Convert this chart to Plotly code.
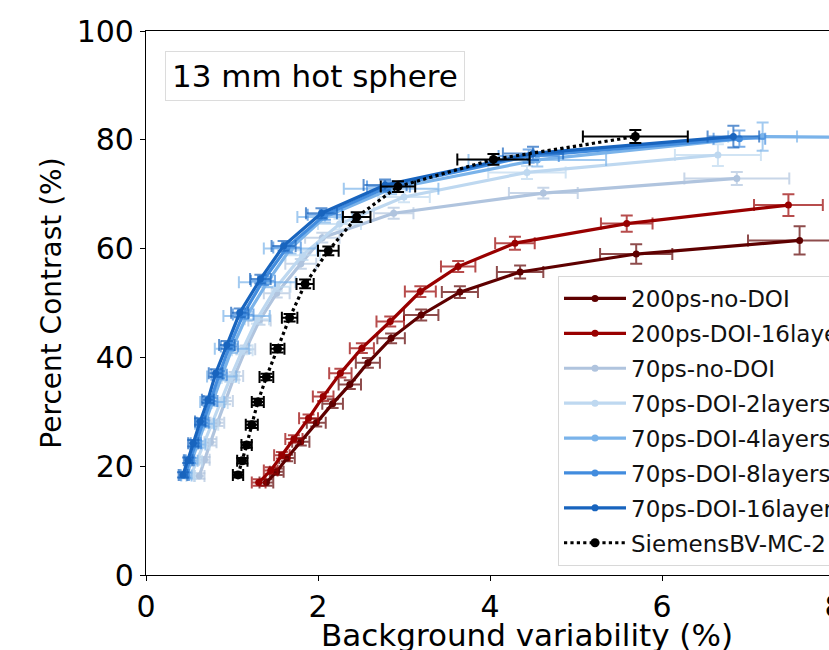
import plotly.graph_objects as go

# ---------------- data ----------------
names = ["200ps-no-DOI", "200ps-DOI-16layers", "70ps-no-DOI", "70ps-DOI-2layers",
         "70ps-DOI-4layers", "70ps-DOI-8layers", "70ps-DOI-16layers", "SiemensBV-MC-2"]

x_200_nodoi = [1.40, 1.52, 1.64, 1.80, 1.98, 2.17, 2.37, 2.58, 2.85, 3.20, 3.65, 4.35, 5.70, 7.60]
y_200_nodoi = [17.0, 19.0, 21.5, 24.5, 28.0, 31.5, 35.0, 39.0, 43.5, 47.8, 52.0, 55.7, 59.0, 61.5]
xe_200_nodoi = [0.08, 0.08, 0.09, 0.10, 0.11, 0.12, 0.13, 0.14, 0.16, 0.20, 0.21, 0.27, 0.42, 0.60]
ye_200_nodoi = [0.6, 0.6, 0.6, 0.7, 0.7, 0.8, 0.8, 0.9, 0.9, 1.0, 1.1, 1.2, 1.8, 2.6]

x_200_doi16 = [1.31, 1.45, 1.58, 1.72, 1.89, 2.06, 2.26, 2.51, 2.84, 3.19, 3.63, 4.29, 5.59, 7.47]
y_200_doi16 = [17.0, 19.2, 22.0, 25.0, 28.8, 32.8, 37.1, 41.7, 46.6, 52.1, 56.7, 61.0, 64.6, 68.0]
xe_200_doi16 = [0.08, 0.08, 0.09, 0.10, 0.11, 0.12, 0.13, 0.14, 0.16, 0.18, 0.20, 0.23, 0.30, 0.40]
ye_200_doi16 = [0.6, 0.6, 0.6, 0.7, 0.7, 0.8, 0.8, 0.9, 0.9, 1.0, 1.0, 1.2, 1.5, 2.0]

x_70_nodoi = [0.62, 0.68, 0.75, 0.83, 0.92, 1.03, 1.16, 1.32, 1.52, 1.80, 2.05, 2.88, 4.62, 6.87]
y_70_nodoi = [18.2, 21.2, 24.4, 28.0, 32.0, 36.6, 41.5, 46.8, 51.8, 57.2, 62.0, 66.5, 70.2, 72.9]
xe_70_nodoi = [0.06, 0.06, 0.07, 0.08, 0.09, 0.10, 0.11, 0.13, 0.15, 0.18, 0.20, 0.23, 0.40, 0.61]
ye_70_nodoi = [0.5, 0.5, 0.6, 0.6, 0.6, 0.7, 0.7, 0.8, 0.8, 0.9, 0.9, 1.0, 1.0, 1.2]

x_70_doi2 = [0.52, 0.59, 0.67, 0.76, 0.86, 0.98, 1.12, 1.29, 1.52, 1.82, 2.25, 3.00, 4.43, 6.65]
y_70_doi2 = [18.2, 21.0, 24.0, 27.6, 31.6, 36.2, 41.3, 47.0, 53.0, 58.8, 64.5, 69.5, 74.0, 77.2]
xe_70_doi2 = [0.05, 0.06, 0.07, 0.08, 0.09, 0.10, 0.12, 0.14, 0.16, 0.20, 0.25, 0.30, 0.45, 0.50]
ye_70_doi2 = [0.5, 0.5, 0.6, 0.6, 0.6, 0.7, 0.7, 0.8, 0.8, 0.9, 1.0, 1.0, 1.2, 2.0]

x_70_doi4 = [0.47, 0.53, 0.60, 0.68, 0.77, 0.88, 1.00, 1.17, 1.41, 1.68, 2.08, 2.85, 4.55, 7.17, 9.20]
y_70_doi4 = [18.3, 21.0, 24.0, 27.8, 31.8, 36.5, 41.6, 47.6, 53.8, 60.0, 65.8, 71.0, 76.3, 80.6, 80.3]
xe_70_doi4 = [0.06, 0.07, 0.09, 0.11, 0.14, 0.17, 0.20, 0.27, 0.33, 0.31, 0.32, 0.55, 0.80, 0.40, 0.50]
ye_70_doi4 = [0.5, 0.5, 0.6, 0.6, 0.7, 0.7, 0.8, 0.8, 0.9, 0.9, 1.0, 1.0, 1.2, 2.6, 2.6]

x_70_doi8 = [0.45, 0.51, 0.58, 0.66, 0.75, 0.85, 0.97, 1.13, 1.36, 1.64, 2.08, 2.82, 4.45, 6.90]
y_70_doi8 = [18.4, 21.1, 24.2, 28.0, 32.0, 36.8, 42.0, 47.9, 54.1, 60.2, 66.2, 71.4, 77.0, 80.2]
xe_70_doi8 = [0.05, 0.05, 0.06, 0.07, 0.08, 0.09, 0.10, 0.12, 0.14, 0.16, 0.20, 0.25, 0.35, 0.30]
ye_70_doi8 = [0.5, 0.5, 0.6, 0.6, 0.6, 0.7, 0.7, 0.8, 0.8, 0.9, 0.9, 1.0, 1.2, 1.5]

x_70_doi16 = [0.43, 0.49, 0.55, 0.63, 0.72, 0.81, 0.94, 1.09, 1.33, 1.60, 2.04, 2.78, 4.50, 6.83]
y_70_doi16 = [18.4, 21.1, 24.2, 28.2, 32.2, 37.1, 42.3, 48.2, 54.4, 60.5, 66.5, 71.7, 77.5, 80.6]
xe_70_doi16 = [0.05, 0.05, 0.06, 0.06, 0.07, 0.08, 0.09, 0.10, 0.12, 0.14, 0.18, 0.25, 0.35, 0.30]
ye_70_doi16 = [0.5, 0.5, 0.6, 0.6, 0.6, 0.7, 0.7, 0.8, 0.8, 0.9, 0.9, 1.0, 1.2, 2.0]

x_siemens = [1.07, 1.12, 1.17, 1.23, 1.30, 1.40, 1.53, 1.67, 1.85, 2.12, 2.45, 2.93, 4.04, 5.69]
y_siemens = [18.4, 21.0, 23.9, 27.6, 31.8, 36.4, 41.6, 47.3, 53.5, 59.6, 65.8, 71.4, 76.4, 80.6]
xe_siemens = [0.06, 0.06, 0.06, 0.07, 0.07, 0.08, 0.08, 0.09, 0.10, 0.12, 0.16, 0.20, 0.42, 0.61]
ye_siemens = [0.5, 0.5, 0.5, 0.6, 0.6, 0.6, 0.7, 0.7, 0.8, 0.8, 0.9, 1.0, 1.0, 1.2]

x_ticks = [0, 2, 4, 6, 8]
y_ticks = [0, 20, 40, 60, 80, 100]

series = [
    (x_200_nodoi, y_200_nodoi, xe_200_nodoi, ye_200_nodoi, (94, 0, 0)),
    (x_200_doi16, y_200_doi16, xe_200_doi16, ye_200_doi16, (153, 0, 0)),
    (x_70_nodoi, y_70_nodoi, xe_70_nodoi, ye_70_nodoi, (176, 196, 222)),
    (x_70_doi2, y_70_doi2, xe_70_doi2, ye_70_doi2, (190, 216, 240)),
    (x_70_doi4, y_70_doi4, xe_70_doi4, ye_70_doi4, (122, 179, 234)),
    (x_70_doi8, y_70_doi8, xe_70_doi8, ye_70_doi8, (66, 140, 222)),
    (x_70_doi16, y_70_doi16, xe_70_doi16, ye_70_doi16, (24, 100, 190)),
]

FONT = "DejaVu Sans"
fig = go.Figure()

for i, (xs, ys, xe, ye, rgb) in enumerate(series):
    c = "rgb(%d,%d,%d)" % rgb
    ca = "rgba(%d,%d,%d,0.7)" % rgb
    fig.add_trace(go.Scatter(
        x=xs, y=ys, mode="lines+markers", name=names[i], legendgroup=names[i],
        line=dict(color=c, width=3.2),
        marker=dict(color=c, size=7, symbol="circle"),
        error_x=dict(type="data", array=xe, color=ca, thickness=2, width=6),
        error_y=dict(type="data", array=ye, color=ca, thickness=2, width=6),
    ))

fig.add_trace(go.Scatter(
    x=x_siemens, y=y_siemens, mode="lines+markers", name=names[7], legendgroup=names[7],
    line=dict(color="black", width=3.2, dash="dot"),
    marker=dict(color="black", size=9, symbol="circle"),
    error_x=dict(type="data", array=xe_siemens, color="black", thickness=2, width=6),
    error_y=dict(type="data", array=ye_siemens, color="black", thickness=2, width=6),
))

# The original figure is larger than the window: it runs past the right and bottom edges.
W, H = 908, 653
L, T, B = 146, 31, 78
PW = W - L
PH = H - T - B        # 544 px
SX, SY = L, H - B     # screen px of the plot origin (y = 575)
xmax = PW / 86.0

def px(xs):  # screen x -> paper
    return (xs - SX) / PW

def py(ys):  # screen y -> paper
    return (SY - ys) / PH

fig.update_layout(
    width=W, height=H,
    margin=dict(l=L, r=0, t=T, b=B, autoexpand=False),
    paper_bgcolor="white", plot_bgcolor="white",
    font=dict(family=FONT, color="black"),
    showlegend=True,
    legend=dict(
        x=px(558), y=py(276), xanchor="left", yanchor="top",
        xref="paper", yref="paper",
        bgcolor="rgba(255,255,255,0.9)", bordercolor="#d8d8d8", borderwidth=1,
        font=dict(family=FONT, size=23, color="#111"),
        tracegroupgap=2, itemwidth=62,
    ),
    xaxis=dict(
        range=[0, xmax], tickvals=x_ticks, ticktext=[str(v) for v in x_ticks],
        showline=True, linecolor="black", linewidth=1.2, mirror=True,
        ticks="outside", ticklen=5, tickcolor="black",
        showgrid=False, zeroline=False,
        tickfont=dict(family=FONT, size=30),
        title=dict(text="Background variability (%)", font=dict(family=FONT, size=31), standoff=2),
    ),
    yaxis=dict(
        range=[0, 100], tickvals=y_ticks,
        showline=True, linecolor="black", linewidth=1.2, mirror=True,
        ticks="outside", ticklen=5, tickcolor="black",
        showgrid=False, zeroline=False,
        tickfont=dict(family=FONT, size=30),
        title=dict(text="Percent Contrast (%)", font=dict(family=FONT, size=28), standoff=6),
    ),
)

fig.add_annotation(
    x=px(315), y=py(75.5), xref="paper", yref="paper",
    text="13 mm hot sphere", showarrow=False, xanchor="center", yanchor="middle",
    font=dict(family=FONT, size=31, color="black"),
    bgcolor="white", bordercolor="#dcdcdc", borderwidth=1, borderpad=6,
)

page_js = ("document.documentElement.style.overflow='hidden';"
           "document.body.style.margin='0';document.body.style.overflow='hidden';")

fig.write_html("out.html", post_script=page_js, config={"displayModeBar": False})
